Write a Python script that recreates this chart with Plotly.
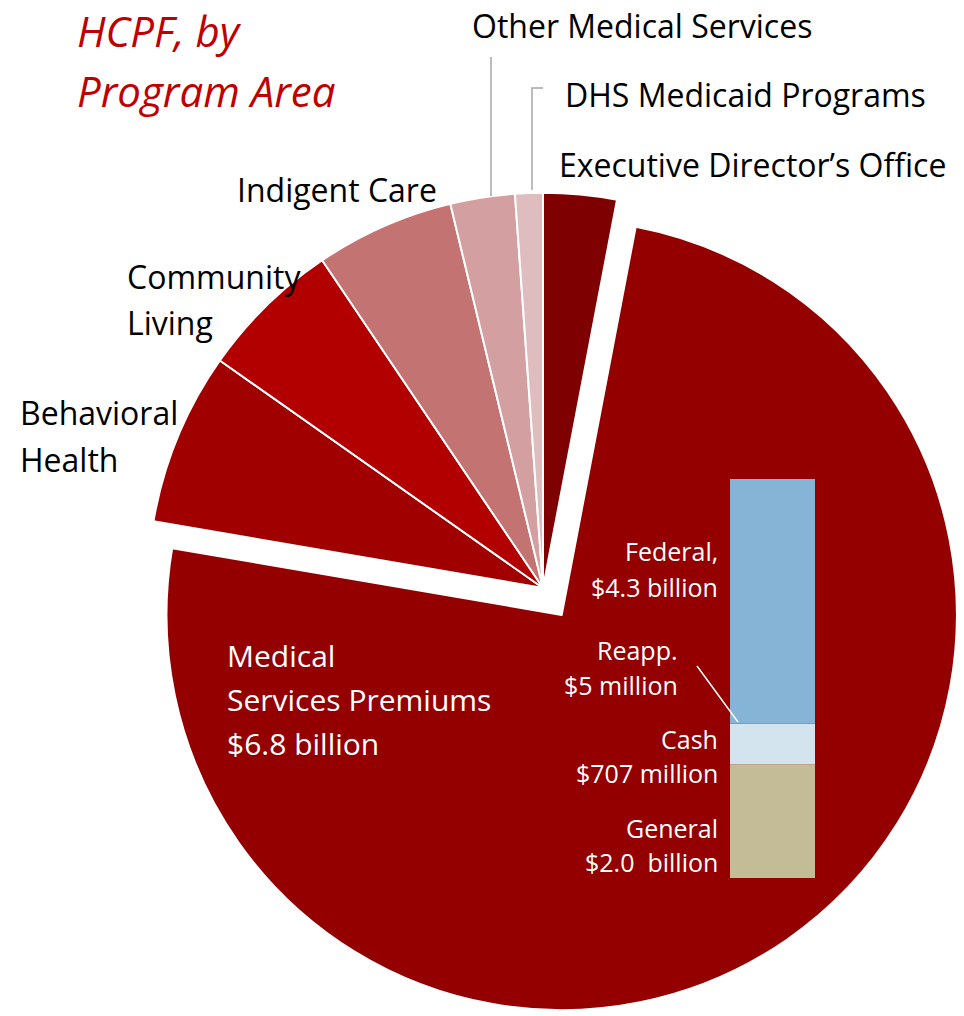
import plotly.graph_objects as go

W = 972  # a little wider than the window so the pie can be as large as the reference
H = 1016

# HCPF spending by program area, $ millions
programs = [
    "Executive Director’s Office",
    "Medical Services Premiums",
    "Behavioral Health",
    "Community Living",
    "Indigent Care",
    "Other Medical Services",
    "DHS Medicaid Programs",
]
spending = [273, 6800, 643, 528, 516, 240, 103]
slice_colors = ["#7F0000", "#940000", "#A00000", "#B20000", "#C47373", "#D39FA0", "#DFBCBE"]

# Medical Services Premiums by fund source, $ billions
fund_sources = ["General", "Cash", "Reapp.", "Federal"]
fund_amounts = [2.0, 0.707, 0.005, 4.3]
fund_colors = ["#C4BB97", "#D4E4EF", "#D4E4EF", "#86B4D6"]

FONT = "Open Sans"


def px(x):
    return x / W


def py(y):
    return 1 - y / H


def label(fig, text, x, y, size=32, color="black", anchor="left", italic=False):
    fig.add_annotation(
        text=text, x=px(x), y=py(y), xref="paper", yref="paper",
        xanchor=anchor, yanchor="middle", showarrow=False,
        font=dict(family=FONT, size=size, color=color,
                  style="italic" if italic else "normal"),
    )


fig = go.Figure()

# pie centred at pixel (543, 588)
cx = px(543)
half = 1 - cx
cy = py(588)
fig.add_trace(go.Pie(
    labels=programs,
    values=spending,
    sort=False,
    direction="clockwise",
    rotation=0,
    pull=[0, 0.083, 0, 0, 0, 0, 0],
    marker=dict(colors=slice_colors, line=dict(color="white", width=2)),
    textinfo="none",
    hoverinfo="label+value",
    domain=dict(x=[cx - half, 1.0], y=[0, 2 * cy]),
    showlegend=False,
))

# the stacked bar (pie layer sits above cartesian traces, so the visible
# segments are drawn as axis-referenced shapes on top)
base = 0
for name, amount, color in zip(fund_sources, fund_amounts, fund_colors):
    fig.add_trace(go.Bar(
        x=["MSP"], y=[amount], name=name,
        marker=dict(color=color, line=dict(width=0)),
        showlegend=False,
    ))
    fig.add_shape(type="rect", xref="x domain", yref="y",
                  x0=0, x1=1, y0=base, y1=base + amount,
                  fillcolor=color, line=dict(width=0), layer="above")
    base += amount

fig.update_layout(
    width=W, height=H,
    margin=dict(l=0, r=0, t=0, b=0),
    paper_bgcolor="white",
    plot_bgcolor="rgba(0,0,0,0)",
    barmode="stack",
    bargap=0,
    xaxis=dict(domain=[px(730), px(815)], visible=False),
    yaxis=dict(domain=[py(878), py(479)], range=[0, sum(fund_amounts)], visible=False),
    font=dict(family=FONT),
)

# title
label(fig, "HCPF, by", 75, 31, size=42, color="#C00000", italic=True)
label(fig, "Program Area", 75, 91, size=42, color="#C00000", italic=True)

# pie labels
label(fig, "Other Medical Services", 470, 26)
label(fig, "DHS Medicaid Programs", 563, 94)
label(fig, "Executive Director’s Office", 557, 165)
label(fig, "Indigent Care", 235, 189)
label(fig, "Community", 125, 277)
label(fig, "Living", 125, 322)
label(fig, "Behavioral", 18, 413)
label(fig, "Health", 18, 459)

label(fig, "Medical", 225, 655, size=30, color="white")
label(fig, "Services Premiums", 225, 699, size=30, color="white")
label(fig, "$6.8 billion", 225, 743, size=30, color="white")

# fund source labels
label(fig, "Federal,", 720, 551, size=25, color="white", anchor="right")
label(fig, "$4.3 billion", 720, 587, size=25, color="white", anchor="right")
label(fig, "Reapp.", 680, 650, size=25, color="white", anchor="right")
label(fig, "$5 million", 680, 685, size=25, color="white", anchor="right")
label(fig, "Cash", 720, 739, size=25, color="white", anchor="right")
label(fig, "$707 million", 720, 773, size=25, color="white", anchor="right")
label(fig, "General", 720, 828, size=25, color="white", anchor="right")
label(fig, "$2.0  billion", 720, 862, size=25, color="white", anchor="right")

# leader lines
fig.add_shape(type="line", xref="paper", yref="paper",
              x0=px(491), y0=py(57), x1=px(491), y1=py(196),
              line=dict(color="#A6A6A6", width=1.5))
fig.add_shape(type="path", xref="paper", yref="paper",
              path=f"M {px(543)},{py(88)} L {px(532)},{py(88)} L {px(532)},{py(190)}",
              line=dict(color="#A6A6A6", width=1.5))
fig.add_shape(type="line", xref="paper", yref="paper",
              x0=px(697), y0=py(666), x1=px(738), y1=py(722),
              line=dict(color="white", width=1.5))

fig.write_html("out.html", config={"displayModeBar": False},
               post_script="document.body.style.margin = '0';")
